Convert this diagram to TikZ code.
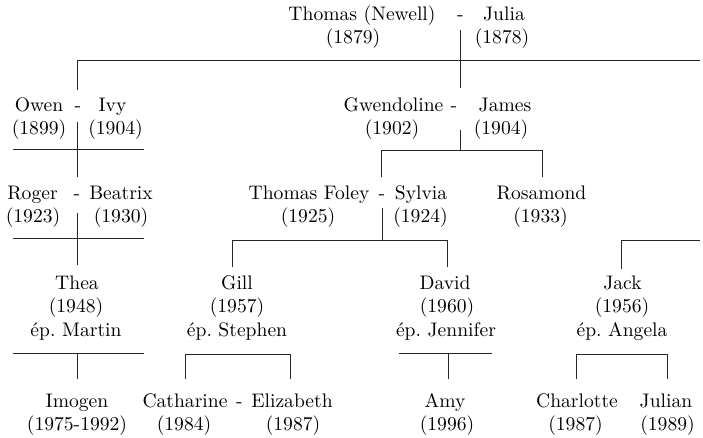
\documentclass[tikz,border=0pt]{standalone}
\usepackage{fontspec}
\setmainfont{lmroman10-regular}[Extension=.otf]
\begin{document}
\frenchspacing
\tikzset{
  nm/.style={anchor=base, inner sep=0pt, font=\fontsize{19.6}{23}\selectfont},
  ln/.style={line width=1pt, draw=black!85},
}
\begin{tikzpicture}[x=1pt,y=-1pt]
\useasboundingbox (0,0) rectangle (703,438);
% Row 1
\node[nm] (thomas) at (362,21) {Thomas (Newell)};
\node[nm] (d1) at (460.5,21) {-};
\node[nm] (julia) at (504,21) {Julia};
\node[nm] (thomasy) at (353,43.5) {(1879)};
\node[nm] (juliay) at (502,43.5) {(1878)};
% Row 2
\node[nm] (owen) at (39,112) {Owen};
\node[nm] (d2) at (78,112) {-};
\node[nm] (ivy) at (112.5,112) {Ivy};
\node[nm] (oweny) at (39,135) {(1899)};
\node[nm] (ivyy) at (115.5,135) {(1904)};
\node[nm] (gwen) at (393.5,112) {Gwendoline};
\node[nm] (d3) at (454,112) {-};
\node[nm] (james) at (505,112) {James};
\node[nm] (gweny) at (392,135) {(1902)};
\node[nm] (jamesy) at (501,135) {(1904)};
% Row 3
\node[nm] (roger) at (32.5,200) {Roger};
\node[nm] (d4) at (77,200) {-};
\node[nm] (beatrix) at (121,200) {Beatrix};
\node[nm] (rogery) at (33,222.5) {(1923)};
\node[nm] (beatrixy) at (121,222.5) {(1930)};
\node[nm] (foley) at (309,200) {Thomas Foley};
\node[nm] (d5) at (382,200) {-};
\node[nm] (sylvia) at (421,200) {Sylvia};
\node[nm] (foleyy) at (308,222.5) {(1925)};
\node[nm] (sylviay) at (420.5,222.5) {(1924)};
\node[nm] (rosamond) at (541.5,200) {Rosamond};
\node[nm] (rosamondy) at (540.5,222.5) {(1933)};
% Row 4
\node[nm] (thea) at (77,289) {Thea};
\node[nm] (theay) at (76,312) {(1948)};
\node[nm] (theas) at (76,336) {ép. Martin};
\node[nm] (gill) at (237,289) {Gill};
\node[nm] (gilly) at (237,312) {(1957)};
\node[nm] (gills) at (237,336) {ép. Stephen};
\node[nm] (david) at (445,289) {David};
\node[nm] (davidy) at (447,312) {(1960)};
\node[nm] (davids) at (446,336) {ép. Jennifer};
\node[nm] (jack) at (622.5,289) {Jack};
\node[nm] (jacky) at (622,312) {(1956)};
\node[nm] (jacks) at (622,336) {ép. Angela};
% Row 5
\node[nm] (imogen) at (77,407) {Imogen};
\node[nm] (imogeny) at (77,430) {(1975-1992)};
\node[nm] (cath) at (185,407) {Catharine};
\node[nm] (d6) at (239.5,407) {-};
\node[nm] (eliz) at (292,407) {Elizabeth};
\node[nm] (cathy) at (184,430) {(1984)};
\node[nm] (elizy) at (293,430) {(1987)};
\node[nm] (amy) at (445,407) {Amy};
\node[nm] (amyy) at (447,430) {(1996)};
\node[nm] (charlotte) at (577,407) {Charlotte};
\node[nm] (charlottey) at (575.5,430) {(1987)};
\node[nm] (julian) at (666,407) {Julian};
\node[nm] (juliany) at (667.5,430) {(1989)};
% junction coordinates
\coordinate (c1t) at (460.5,30);
\coordinate (c1b) at (460.5,88);
\coordinate (L1l) at (77.7,61);
\coordinate (L1r) at (700,61);
\coordinate (owT) at (77.7,90);
\coordinate (c2t) at (77.7,122);
\coordinate (c2b) at (77.7,177);
\coordinate (L2l) at (13.3,150);
\coordinate (L2r) at (144,150);
\coordinate (c4t) at (77.7,213);
\coordinate (c4b) at (77.7,265);
\coordinate (L4l) at (13.3,238);
\coordinate (L4r) at (144,238);
\coordinate (L6l) at (13.3,353.3);
\coordinate (L6r) at (144,353.3);
\coordinate (c6t) at (77.7,353.3);
\coordinate (c6b) at (77.7,379);
\coordinate (c3t) at (460.5,130);
\coordinate (c3b) at (460.5,150.7);
\coordinate (b3l) at (381.7,150.7);
\coordinate (b3r) at (542.3,150.7);
\coordinate (b3lb) at (381.7,177.3);
\coordinate (b3rb) at (542.3,177.3);
\coordinate (c5t) at (382.7,208);
\coordinate (c5b) at (382.7,240.7);
\coordinate (b5l) at (232.7,240.7);
\coordinate (b5r) at (447.7,240.7);
\coordinate (b5lb) at (232.7,267);
\coordinate (b5rb) at (447.7,267);
\coordinate (jR) at (700,240.7);
\coordinate (jC) at (621.7,240.7);
\coordinate (jB) at (621.7,269);
\coordinate (gl) at (185.7,354);
\coordinate (gr) at (290,354);
\coordinate (glb) at (185.7,379);
\coordinate (grb) at (290,379);
\coordinate (dl) at (399.3,353.3);
\coordinate (dr) at (491.7,353.3);
\coordinate (dc) at (448.3,353.3);
\coordinate (dcb) at (448.3,379);
\coordinate (kl) at (576.7,354);
\coordinate (kr) at (667.3,354);
\coordinate (klb) at (576.7,379);
\coordinate (krb) at (667.3,379);
% connectors
\draw[ln] (c1t) -- (c1b);
\draw[ln] (owT) -- (L1l) -- (L1r);
\draw[ln] (c2t) -- (c2b);
\draw[ln] (L2l) -- (L2r);
\draw[ln] (c4t) -- (c4b);
\draw[ln] (L4l) -- (L4r);
\draw[ln] (L6l) -- (L6r);
\draw[ln] (c6t) -- (c6b);
\draw[ln] (c3t) -- (c3b);
\draw[ln] (b3lb) -- (b3l) -- (b3r) -- (b3rb);
\draw[ln] (c5t) -- (c5b);
\draw[ln] (b5lb) -- (b5l) -- (b5r) -- (b5rb);
\draw[ln] (jR) -- (jC) -- (jB);
\draw[ln] (glb) -- (gl) -- (gr) -- (grb);
\draw[ln] (dl) -- (dr);
\draw[ln] (dc) -- (dcb);
\draw[ln] (klb) -- (kl) -- (kr) -- (krb);
\end{tikzpicture}
\end{document}
